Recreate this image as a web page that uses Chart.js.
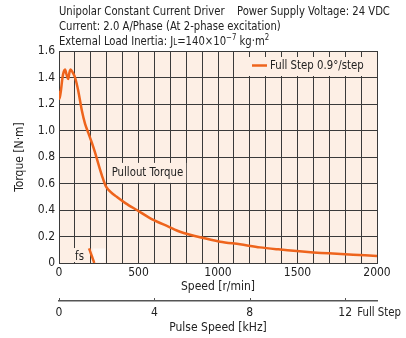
<!DOCTYPE html>
<html>
<head>
<meta charset="utf-8">
<script src="https://cdn.jsdelivr.net/npm/chart.js@4.4.0/dist/chart.umd.min.js"></script>
<style>
  html, body { margin: 0; padding: 0; background: #fff; }
  #wrap { position: relative; width: 406px; height: 338px; overflow: hidden; }
  #c { position: absolute; left: 0; top: 0; }
  .hd { position: absolute; left: 59px; color: #222; white-space: nowrap; line-height: 15px;
        font: 13px "DejaVu Sans Condensed", sans-serif; transform: scaleX(0.86); transform-origin: 0 0; }
  .sm { font-size: 9px; }
  .sup { font-size: 9px; position: relative; top: -5px; }
</style>
</head>
<body>
<div id="wrap">
  <canvas id="c" width="406" height="338"></canvas>
  <div class="hd" style="top:3px">Unipolar Constant Current Driver</div>
  <div class="hd" style="top:3px;left:237px">Power Supply Voltage: 24 VDC</div>
  <div class="hd" style="top:18px">Current: 2.0 A/Phase (At 2-phase excitation)</div>
  <div class="hd" style="top:33px">External Load Inertia: J<span class="sm">L</span>=140×10<span class="sup">−7</span> kg·m<span class="sup">2</span></div>
</div>
<script>
"use strict";

// ── Data ──────────────────────────────────────────────────────────────
const speedRpm  = [0, 4, 12, 25, 38, 48, 58, 66, 73, 85, 101, 121, 143, 164, 185, 206, 225, 247, 270, 296,
                   330, 363, 420, 489, 593, 688, 761, 887, 1013, 1138, 1264, 1379, 1495, 1600, 1696, 1850, 2000];
const torqueNm  = [1.30, 1.24, 1.30, 1.42, 1.46, 1.42, 1.39, 1.44, 1.46, 1.44, 1.40, 1.30, 1.155, 1.05, 0.98, 0.91, 0.84, 0.75, 0.66, 0.576,
                   0.53, 0.50, 0.45, 0.40, 0.325, 0.275, 0.236, 0.194, 0.161, 0.141, 0.118, 0.103, 0.09, 0.08, 0.073, 0.063, 0.053];
const fsSpeed   = [189, 222];
const fsTorque  = [0.11, 0];
const pulseTicks = [0, 4, 8, 12];   // kHz
const seriesName = 'Full Step 0.9°/step';

const FONT = '"DejaVu Sans Condensed", sans-serif';
const ORANGE = '#ee641c';
const PLOT_BG = '#fdefe5';
const GRID = '#3a3a3a';
const TXT = '#222';
const SQUEEZE = 0.87;

Chart.defaults.font.family = FONT;
Chart.defaults.font.size = 12;
Chart.defaults.color = TXT;

const toXY = (xs, ys) => xs.map((v, i) => ({ x: v, y: ys[i] }));

// narrow text helper (reference uses a condensed face)
function narrowText(ctx, text, x, y, align) {
  ctx.save();
  ctx.translate(x, y);
  ctx.scale(SQUEEZE, 1);
  ctx.textAlign = align;
  ctx.fillText(text, 0, 0);
  ctx.restore();
}

// ── Plot background + annotations ─────────────────────────────────────
const bgPlugin = {
  id: 'plotBg',
  beforeDraw(chart) {
    const { ctx, chartArea: a } = chart;
    ctx.save();
    ctx.fillStyle = PLOT_BG;
    ctx.fillRect(a.left, a.top, a.right - a.left, a.bottom - a.top);
    ctx.restore();
  }
};

const notesPlugin = {
  id: 'notes',
  beforeDatasetsDraw(chart) {
    const { ctx, chartArea: a, scales: { x, y } } = chart;
    ctx.save();
    ctx.font = '13px ' + FONT;
    ctx.textBaseline = 'middle';

    // "Pullout Torque" label on its own patch
    const px = x.getPixelForValue(331), py = y.getPixelForValue(0.68);
    ctx.fillStyle = PLOT_BG;
    ctx.fillRect(px - 3, py - 10, ctx.measureText('Pullout Torque').width * SQUEEZE + 6, 20);
    ctx.fillStyle = TXT;
    narrowText(ctx, 'Pullout Torque', px, py, 'left');

    // "fs" label
    const fx = x.getPixelForValue(129), fy = y.getPixelForValue(0.045);
    ctx.fillStyle = PLOT_BG;
    ctx.fillRect(fx - 7, fy - 9, 14, 14);
    ctx.fillStyle = '#fff9f5';
    ctx.fillRect(x.getPixelForValue(215), y.getPixelForValue(0.11), 12, y.getPixelForValue(0.005) - y.getPixelForValue(0.11));
    ctx.fillStyle = TXT;
    narrowText(ctx, 'fs', fx, fy, 'center');

    // legend box
    const lx = a.right - 136, ly = a.top + 6;
    ctx.fillStyle = PLOT_BG;
    ctx.fillRect(lx, ly, 135, 19);
    ctx.strokeStyle = ORANGE;
    ctx.lineWidth = 2.5;
    ctx.beginPath();
    ctx.moveTo(lx + 11, ly + 8.5);
    ctx.lineTo(lx + 26, ly + 8.5);
    ctx.stroke();
    ctx.fillStyle = TXT;
    narrowText(ctx, seriesName, lx + 29, ly + 9, 'left');
    ctx.restore();
  },
  afterDraw(chart) {
    const { ctx, scales: { x2 } } = chart;
    ctx.save();
    ctx.strokeStyle = '#555';
    ctx.lineWidth = 1;
    pulseTicks.forEach(v => {
      const p = Math.round(x2.getPixelForValue(v)) + 0.5;
      ctx.beginPath();
      ctx.moveTo(p, x2.top - 3);
      ctx.lineTo(p, x2.top);
      ctx.stroke();
    });
    ctx.font = '13px ' + FONT;
    ctx.fillStyle = TXT;
    ctx.textBaseline = 'middle';
    narrowText(ctx, 'Full Step', x2.getPixelForValue(12) + 12, x2.top + 12, 'left');
    ctx.restore();
  }
};

// ── Chart ─────────────────────────────────────────────────────────────
new Chart(document.getElementById('c'), {
  type: 'line',
  data: {
    datasets: [
      {
        label: seriesName,
        data: toXY(speedRpm, torqueNm),
        borderColor: ORANGE,
        borderWidth: 2.5,
        pointRadius: 0,
        tension: 0.3,
        fill: false
      },
      {
        label: 'fs',
        data: toXY(fsSpeed, fsTorque),
        borderColor: ORANGE,
        borderWidth: 2.5,
        pointRadius: 0,
        fill: false
      }
    ]
  },
  options: {
    responsive: false,
    animation: false,
    devicePixelRatio: 1,
    layout: { padding: { left: 0, right: 29, top: 51, bottom: 0 } },
    plugins: { legend: { display: false }, tooltip: { enabled: false } },
    scales: {
      x: {
        type: 'linear', position: 'bottom', min: 0, max: 2000,
        ticks: { stepSize: 100, autoSkip: false, maxRotation: 0, padding: 3,
                 callback: v => v % 500 === 0 ? String(v) : '' },
        grid: { color: GRID, drawTicks: false },
        border: { color: GRID },
        title: { display: true, text: 'Speed [r/min]', padding: { top: 0, bottom: 7 } },
        afterFit: s => { s.height = 38; }
      },
      x2: {
        type: 'linear', position: 'bottom', axis: 'x', min: 0, max: 40 / 3,
        ticks: { stepSize: 4, includeBounds: false, autoSkip: false, maxRotation: 0, padding: 5 },
        grid: { display: false, drawTicks: false },
        border: { display: true, color: '#555', width: 1.5 },
        title: { display: true, text: 'Pulse Speed [kHz]', padding: { top: 0, bottom: 3 } },
        afterFit: s => { s.height = 37; }
      },
      y: {
        min: 0, max: 1.6,
        ticks: { stepSize: 0.2, padding: 4, callback: v => v === 0 ? '0' : v.toFixed(1) },
        grid: { color: GRID, drawTicks: false },
        border: { color: GRID },
        title: { display: true, text: 'Torque [N·m]', padding: { top: 13, bottom: 0 } },
        afterFit: s => { s.width = 59; }
      }
    }
  },
  plugins: [bgPlugin, notesPlugin]
});
</script>
</body>
</html>
